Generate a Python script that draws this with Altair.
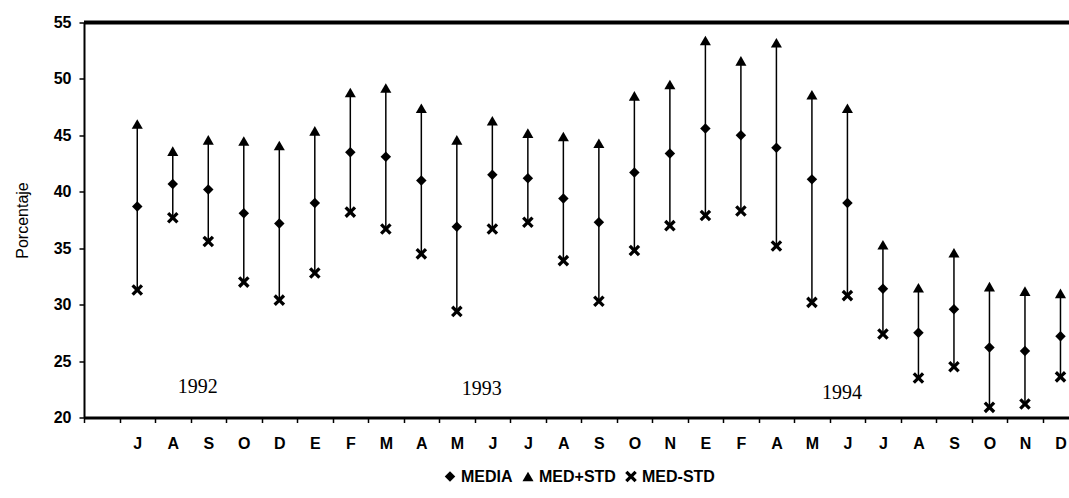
import altair as alt
import pandas as pd

# Meses (jul 1992 - dic 1994) y valores en porcentaje
meses = ["J", "A", "S", "O", "D",
         "E", "F", "M", "A", "M", "J", "J", "A", "S", "O", "N",
         "E", "F", "A", "M", "J", "J", "A", "S", "O", "N", "D"]

media = [38.7, 40.7, 40.2, 38.1, 37.2,
         39.0, 43.5, 43.1, 41.0, 36.9, 41.5, 41.2, 39.4, 37.3, 41.7, 43.4,
         45.6, 45.0, 43.9, 41.1, 39.0, 31.4, 27.5, 29.6, 26.2, 25.9, 27.2]

med_mas_std = [46.0, 43.6, 44.6, 44.5, 44.1,
               45.4, 48.8, 49.2, 47.4, 44.6, 46.3, 45.2, 44.9, 44.3, 48.5, 49.5,
               53.4, 51.6, 53.2, 48.6, 47.4, 35.3, 31.5, 34.6, 31.6, 31.2, 31.0]

med_menos_std = [31.3, 37.7, 35.6, 32.0, 30.4,
                 32.8, 38.2, 36.7, 34.5, 29.4, 36.7, 37.3, 33.9, 30.3, 34.8, 37.0,
                 37.9, 38.3, 35.2, 30.2, 30.8, 27.4, 23.5, 24.5, 20.9, 21.2, 23.6]

anios = ["1992", "1993", "1994"]
anio_pos = [3.2, 11.2, 21.35]
anio_valor = [22.7, 22.5, 22.2]

series = ["MEDIA", "MED+STD", "MED-STD"]
# filled "x" outline so it takes the same fill as the other symbols
aspa = ("M-1,-0.6L-0.6,-1L0,-0.4L0.6,-1L1,-0.6L0.4,0L1,0.6L0.6,1"
        "L0,0.4L-0.6,1L-1,0.6L-0.4,0Z")
formas = ["diamond", "triangle-up", aspa]
tamanos = [110, 135, 100]

ANCHO = 985
ALTO = 395
X_MAX = 27.74
FUENTE = "Liberation Sans"

# each month occupies one unit band; the point sits in its middle
pos = [i + 1.5 for i in range(len(meses))]

df = pd.DataFrame({
    "pos": pos,
    "mes": meses,
    "MEDIA": media,
    "MED+STD": med_mas_std,
    "MED-STD": med_menos_std,
})
df_anios = pd.DataFrame({"pos": anio_pos, "valor": anio_valor, "anio": anios})
df_borde = pd.DataFrame({"pos": [0]})

etiquetas = "[''," + ",".join(f"'{m}'" for m in meses) + "][datum.value]"

escala_x = alt.Scale(domain=[0, X_MAX], nice=False, zero=False)
escala_y = alt.Scale(domain=[20, 55], nice=False, zero=False)

eje_x = alt.Axis(
    values=list(range(0, len(meses) + 1)),
    labelExpr=etiquetas,
    labelOffset=ANCHO / X_MAX / 2,
    labelFlush=False,
    labelOverlap=False,
    labelFont=FUENTE,
    labelFontSize=16,
    labelFontWeight="bold",
    labelColor="black",
    labelPadding=13,
    tickSize=5,
    tickWidth=1.5,
    tickColor="black",
    domainColor="black",
    domainWidth=3,
    grid=False,
    title=None,
)

eje_y = alt.Axis(
    values=[20, 25, 30, 35, 40, 45, 50, 55],
    labelFont=FUENTE,
    labelFontSize=16,
    labelFontWeight="bold",
    labelColor="black",
    labelPadding=8,
    tickSize=5,
    tickWidth=1.5,
    tickColor="black",
    domainColor="black",
    domainWidth=2,
    grid=False,
    title="Porcentaje",
    titleFont=FUENTE,
    titleFontSize=16,
    titleFontWeight="normal",
    titleColor="black",
    titlePadding=23,
)


def enc_x(campo):
    return alt.X(f"{campo}:Q", scale=escala_x, axis=eje_x, title=None)


def enc_y(campo):
    return alt.Y(f"{campo}:Q", scale=escala_y, axis=eje_y, title="Porcentaje")


leyenda = alt.Legend(
    orient="none",
    legendX=358,
    legendY=446,
    direction="horizontal",
    title=None,
    labelFont=FUENTE,
    labelFontSize=16,
    labelFontWeight="bold",
    labelColor="black",
    labelOffset=3,
    columnPadding=7,
    symbolFillColor="black",
    symbolStrokeColor="black",
    symbolStrokeWidth=0,
    symbolOpacity=1,
)

base = alt.Chart(df)

lineas = base.mark_rule(color="black", strokeWidth=1.5).encode(
    x=enc_x("pos"),
    y=enc_y("MED-STD"),
    y2="MED+STD:Q",
)

puntos = base.transform_fold(series, as_=["serie", "valor"]).mark_point(
    filled=True, color="black", opacity=1,
).encode(
    x=enc_x("pos"),
    y=enc_y("valor"),
    shape=alt.Shape(
        "serie:N",
        scale=alt.Scale(domain=series, range=formas),
        legend=leyenda,
    ),
    size=alt.Size(
        "serie:N",
        scale=alt.Scale(domain=series, range=tamanos),
        legend=leyenda,
    ),
)

textos = alt.Chart(df_anios).mark_text(
    font="Liberation Serif", fontSize=20, color="black"
).encode(
    x=enc_x("pos"),
    y=enc_y("valor"),
    text="anio:N",
)

borde_sup = alt.Chart(df_borde).mark_rule(color="black", strokeWidth=4).encode(
    y=alt.datum(55),
    x=alt.value(0),
    x2=alt.value("width"),
)

chart = alt.layer(lineas, puntos, textos, borde_sup).properties(
    width=ANCHO,
    height=ALTO,
    autosize=alt.AutoSizeParams(type="none"),
    padding={"left": 84, "top": 22.5, "right": 0, "bottom": 80.5},
    background="white",
).configure_view(stroke=None)

chart.save("out.html", embed_options={"renderer": "svg", "actions": False})
